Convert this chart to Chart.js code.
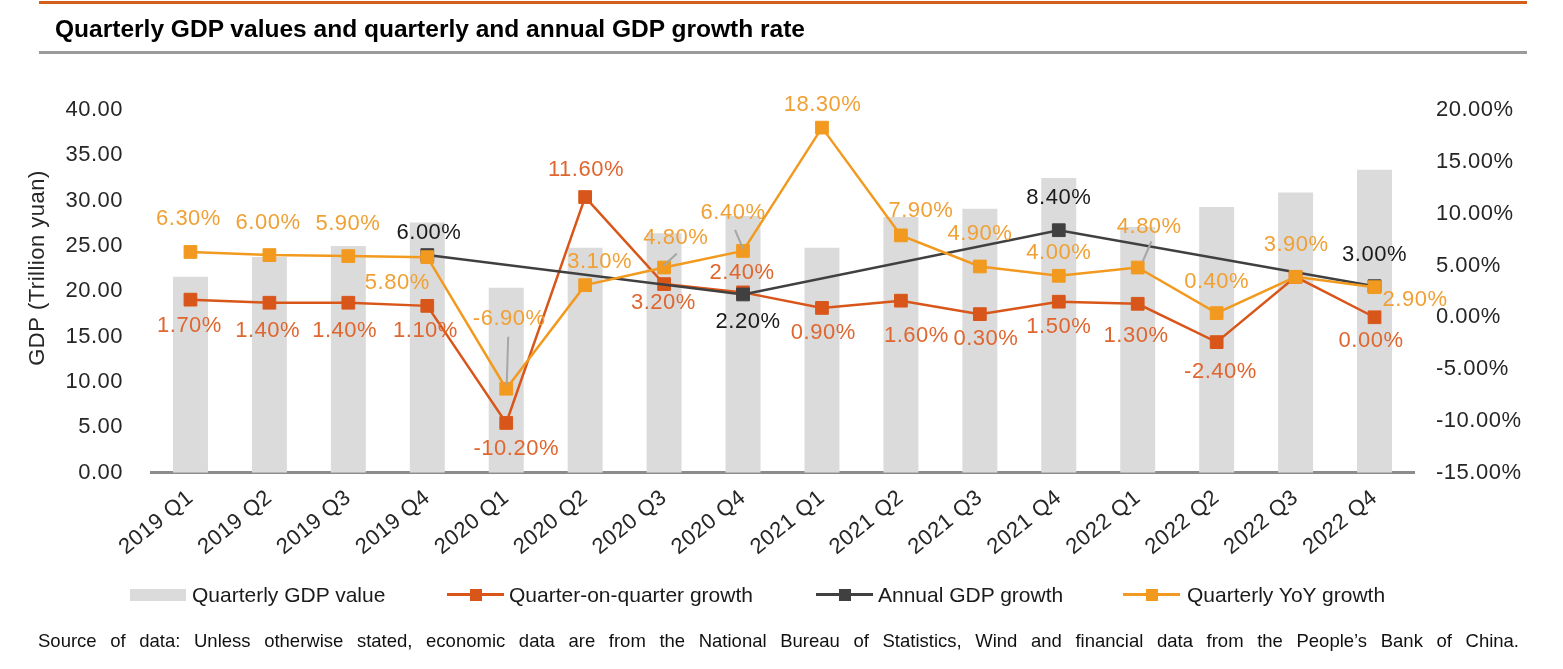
<!DOCTYPE html>
<html>
<head>
<meta charset="utf-8">
<script src="https://cdn.jsdelivr.net/npm/chart.js@4.4.1/dist/chart.umd.min.js"></script>
<style>
html,body{margin:0;padding:0;background:#fff;}
#wrap{position:relative;width:1563px;height:669px;overflow:hidden;font-family:"Liberation Sans",Arial,sans-serif;color:#1a1a1a;background:#fff;}
#wrap canvas{position:absolute;left:0;top:0;}
.rule{position:absolute;left:39px;width:1488px;height:3px;}
#title{position:absolute;left:55px;top:18px;font-weight:bold;font-size:23px;line-height:23px;white-space:nowrap;transform-origin:0 0;color:#000;}
#source{position:absolute;left:38px;width:1481px;top:632px;font-size:18.5px;line-height:18.5px;text-align:justify;text-align-last:justify;font-family:"Liberation Sans Narrow","Liberation Sans",Arial,sans-serif;color:#111;}
.lg-text{position:absolute;top:583.5px;font-size:21px;line-height:21px;white-space:nowrap;color:#1a1a1a;}
.lg-bar{position:absolute;top:589px;width:56px;height:12px;background:#DBDBDB;}
.lg-line{position:absolute;top:593px;width:57px;height:3px;}
.lg-mark{position:absolute;top:589px;width:12px;height:12px;}
</style>
</head>
<body>
<div id="wrap">
  <canvas id="c" width="1563" height="669"></canvas>
  <div class="rule" style="top:1px;background:#D2601A;"></div>
  <div id="title">Quarterly GDP values and quarterly and annual GDP growth rate</div>
  <div class="rule" style="top:51px;background:#9A9A9A;"></div>
  <div id="legend"></div>
  <div id="source">Source of data: Unless otherwise stated, economic data are from the National Bureau of Statistics, Wind and financial data from the People’s Bank of China.</div>
</div>
<script>
// ---------- data ----------
const categories = ['2019 Q1','2019 Q2','2019 Q3','2019 Q4','2020 Q1','2020 Q2','2020 Q3','2020 Q4',
                    '2021 Q1','2021 Q2','2021 Q3','2021 Q4','2022 Q1','2022 Q2','2022 Q3','2022 Q4'];
const gdpValues    = [21.6, 23.8, 25.0, 27.6, 20.4, 24.8, 26.4, 28.3, 24.8, 28.2, 29.1, 32.5, 27.1, 29.3, 30.9, 33.4];
const qoqGrowth    = [1.7, 1.4, 1.4, 1.1, -10.2, 11.6, 3.2, 2.4, 0.9, 1.6, 0.3, 1.5, 1.3, -2.4, 3.9, 0.0];
const annualGrowth = [null, null, null, 6.0, null, null, null, 2.2, null, null, null, 8.4, null, null, null, 3.0];
const yoyGrowth    = [6.3, 6.0, 5.9, 5.8, -6.9, 3.1, 4.8, 6.4, 18.3, 7.9, 4.9, 4.0, 4.8, 0.4, 3.9, 2.9];
const seriesNames  = ['Quarterly GDP value','Quarter-on-quarter growth','Annual GDP growth','Quarterly YoY growth'];
const leftTicks    = [0, 5, 10, 15, 20, 25, 30, 35, 40];
const rightTicks   = [-15, -10, -5, 0, 5, 10, 15, 20];
const yAxisTitle   = 'GDP (Trillion yuan)';

// ---------- styles ----------
const COL = {bar:'#DBDBDB', qoq:'#D9561A', annual:'#404040', yoy:'#F29A1F',
             qoqText:'#E0662F', yoyText:'#F0A035', annualText:'#1A1A1A', leader:'#A6A6A6', tick:'#262626'};
const FONT = '"Liberation Sans", Arial, sans-serif';
const FSIZE = 22;
const LSPACE = '0.5px';

// label offsets (px, relative to the point) – purely placement styling
const labelPlacement = {
  1: {color: COL.qoqText, off: [[-1,26.5],[-1.7,28],[-3.7,28],[-1.8,25],[10,26],[0.8,-27],[-0.7,19],[-1,-19],
                               [1.3,25],[15.5,35],[6,25],[0,25.5],[-1.7,32],[3.8,29.5],null,[-3.5,23.4]]},
  2: {color: COL.annualText, off: [null,null,null,[1.7,-22.4],null,null,null,[5,27],null,null,null,[0,-32],null,null,null,[0,-31]]},
  3: {color: COL.yoyText, off: [[-2,-33],[-1.4,-32],[-0.4,-32],[-30,25.5],[3,-69.5],[14.5,-23.5],[11.7,-30],[-10,-38],
                               [0.5,-22.7],[20,-24],[0,-32.5],[0,-23],[11.5,-41],[0,-31.5],[0.5,-32],[40.5,12.7]]}
};
const leaders = [
  {ds:3, i:4,  from:[2,-52],   to:[0.5,-4]},
  {ds:3, i:6,  from:[12.7,-14],to:[0,-2]},
  {ds:3, i:7,  from:[-8,-21],  to:[0,-2]},
  {ds:3, i:12, from:[13.7,-26],to:[5,-6]}
];

const spacingPlugin = {
  id:'spacing',
  beforeDraw(chart){ chart.ctx.letterSpacing = LSPACE; }
};

const labelPlugin = {
  id:'pointLabels',
  afterDatasetsDraw(chart){
    const ctx = chart.ctx;
    ctx.save();
    ctx.letterSpacing = LSPACE;
    ctx.lineWidth = 2;
    ctx.strokeStyle = COL.leader;
    leaders.forEach(l => {
      const el = chart.getDatasetMeta(l.ds).data[l.i];
      ctx.beginPath();
      ctx.moveTo(el.x + l.from[0], el.y + l.from[1]);
      ctx.lineTo(el.x + l.to[0], el.y + l.to[1]);
      ctx.stroke();
    });
    ctx.font = FSIZE + 'px ' + FONT;
    ctx.textAlign = 'center';
    ctx.textBaseline = 'middle';
    Object.keys(labelPlacement).forEach(k => {
      const ds = +k, spec = labelPlacement[k];
      const meta = chart.getDatasetMeta(ds);
      const vals = chart.data.datasets[ds].data;
      ctx.fillStyle = spec.color;
      spec.off.forEach((o, i) => {
        if (!o || vals[i] == null) return;
        const el = meta.data[i];
        ctx.fillText(vals[i].toFixed(2) + '%', el.x + o[0], el.y + o[1]);
      });
    });
    ctx.restore();
  },
  afterDraw(chart){
    const ctx = chart.ctx;
    ctx.save();
    ctx.letterSpacing = LSPACE;
    ctx.translate(38, 268);
    ctx.rotate(-Math.PI/2);
    ctx.font = FSIZE + 'px ' + FONT;
    ctx.fillStyle = COL.tick;
    ctx.textAlign = 'center';
    ctx.textBaseline = 'middle';
    ctx.fillText(yAxisTitle, 0, 0);
    ctx.restore();
  }
};

const lineBase = {type:'line', yAxisID:'y1', borderWidth:2.5, tension:0, pointStyle:'rect',
                  pointRadius:9, pointHoverRadius:9, pointBorderWidth:1};

new Chart(document.getElementById('c'), {
  data: {
    labels: categories,
    datasets: [
      {type:'bar', label:seriesNames[0], data:gdpValues, yAxisID:'y', backgroundColor:COL.bar,
       barPercentage:0.443, categoryPercentage:1, order:4},
      Object.assign({}, lineBase, {label:seriesNames[1], data:qoqGrowth, borderColor:COL.qoq,
       backgroundColor:COL.qoq, pointBorderColor:COL.qoq, order:3}),
      Object.assign({}, lineBase, {label:seriesNames[2], data:annualGrowth, borderColor:COL.annual,
       backgroundColor:COL.annual, pointBorderColor:COL.annual, spanGaps:true, order:2}),
      Object.assign({}, lineBase, {label:seriesNames[3], data:yoyGrowth, borderColor:COL.yoy,
       backgroundColor:COL.yoy, pointBorderColor:COL.yoy, order:1})
    ]
  },
  options: {
    responsive:false, animation:false, devicePixelRatio:1,
    layout:{padding:{left:0, right:0, top:110, bottom:96.3}},
    plugins:{legend:{display:false}, tooltip:{enabled:false}, title:{display:false}},
    scales:{
      x:{
        offset:true,
        grid:{display:true, drawOnChartArea:false, drawTicks:false},
        border:{display:true, color:'#8C8C8C', width:3},
        ticks:{autoSkip:false, maxRotation:39, minRotation:39, padding:12,
               color:COL.tick, font:{family:FONT, size:FSIZE}},
        afterFit(s){ s.height = 100; }
      },
      y:{
        position:'left', min:0, max:40,
        grid:{display:false, drawTicks:false}, border:{display:false},
        afterBuildTicks(s){ s.ticks = leftTicks.map(v => ({value:v})); },
        ticks:{padding:28, color:COL.tick, font:{family:FONT, size:FSIZE},
               callback:(v) => Number(v).toFixed(2)},
        afterFit(s){ s.width = 151; }
      },
      y1:{
        position:'right', min:-15, max:20,
        grid:{display:false, drawTicks:false}, border:{display:false},
        afterBuildTicks(s){ s.ticks = rightTicks.map(v => ({value:v})); },
        ticks:{padding:22, color:COL.tick, font:{family:FONT, size:FSIZE},
               callback:(v) => Number(v).toFixed(2) + '%'},
        afterFit(s){ s.width = 149; }
      }
    }
  },
  plugins:[spacingPlugin, labelPlugin]
});

// ---------- HTML legend ----------
(function(){
  const lg = document.getElementById('legend');
  const items = [
    {kind:'bar',  color:COL.bar,    x:130,  tx:192},
    {kind:'line', color:COL.qoq,    x:447,  tx:509},
    {kind:'line', color:COL.annual, x:816,  tx:878},
    {kind:'line', color:COL.yoy,    x:1123, tx:1187}
  ];
  items.forEach((it, k) => {
    if (it.kind === 'bar') {
      const b = document.createElement('div'); b.className = 'lg-bar'; b.style.left = it.x + 'px'; lg.appendChild(b);
    } else {
      const l = document.createElement('div'); l.className = 'lg-line'; l.style.left = it.x + 'px'; l.style.background = it.color; lg.appendChild(l);
      const m = document.createElement('div'); m.className = 'lg-mark'; m.style.left = (it.x + 22.5) + 'px'; m.style.background = it.color; lg.appendChild(m);
    }
    const t = document.createElement('div'); t.className = 'lg-text'; t.style.left = it.tx + 'px'; t.textContent = seriesNames[k]; lg.appendChild(t);
  });
  const title = document.getElementById('title');
  const w = title.getBoundingClientRect().width;
  title.style.transform = 'scaleX(' + (750 / w) + ')';
})();
</script>
</body>
</html>
